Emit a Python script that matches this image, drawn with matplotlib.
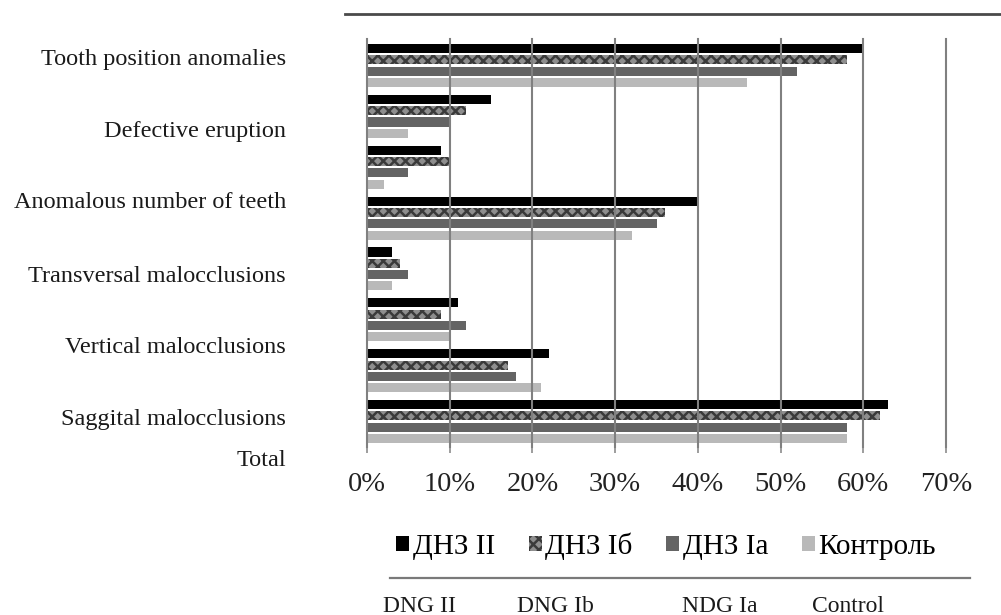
import matplotlib
matplotlib.use("Agg")
import matplotlib.pyplot as plt
from matplotlib.lines import Line2D
from matplotlib.patches import Patch
import numpy as np

# ---- data -------------------------------------------------------------
category_labels = [
    "Tooth position anomalies",
    "Defective eruption",
    "Anomalous number of teeth",
    "Transversal malocclusions",
    "Vertical malocclusions",
    "Saggital malocclusions",
    "Total",
]
series_names = ["ДНЗ II", "ДНЗ Iб", "ДНЗ Ia", "Контроль"]
group_names_en = ["DNG II", "DNG Ib", "NDG Ia", "Control"]

# percentage per bar group (top to bottom), one list per series
dnz_ii = [60, 15, 9, 40, 3, 11, 22, 63]
dnz_ib = [58, 12, 10, 36, 4, 9, 17, 62]
dnz_ia = [52, 10, 5, 35, 5, 12, 18, 58]
control = [46, 5, 2, 32, 3, 10, 21, 58]

x_ticks = [0, 10, 20, 30, 40, 50, 60, 70]
x_tick_labels = ["0%", "10%", "20%", "30%", "40%", "50%", "60%", "70%"]

# ---- figure -----------------------------------------------------------
W, H = 1001, 615
plt.rcParams["font.family"] = ["Liberation Serif", "DejaVu Serif"]
plt.rcParams["hatch.linewidth"] = 1.8
fig = plt.figure(figsize=(W / 100, H / 100), dpi=100)


def fx(px):
    return px / W


def fy(py):
    return 1 - py / H


ax = fig.add_axes([fx(367), fy(447), fx(946) - fx(367), fy(39) - fy(447)])

hatch_face, hatch_ink = "#8e8e8e", "#3a3a3a"
series = [dnz_ii, dnz_ib, dnz_ia, control]
styles = [
    dict(color="#000000"),
    dict(facecolor=hatch_face, edgecolor=hatch_ink, hatch="xxx", linewidth=0),
    dict(color="#646464"),
    dict(color="#b9b9b9"),
]

n_groups = len(dnz_ii)
group_pitch = 4.5
bar_h = 0.8
base = np.arange(n_groups) * group_pitch
for k, (vals, st) in enumerate(zip(series, styles)):
    ax.barh(base + k, vals, height=bar_h, zorder=2, **st)

ax.set_xlim(0, 70)
ax.set_ylim(35.25, -0.84)
ax.set_yticks([])
ax.set_xticks(x_ticks)
ax.set_xticklabels(x_tick_labels, fontsize=20.5, color="#222222")
ax.tick_params(axis="x", length=4, width=1.2, color="#8c8c8c", pad=14)
for s in ax.spines.values():
    s.set_visible(False)
for xv in x_ticks:
    ax.axvline(xv, color="#808080", lw=1.5, zorder=3, clip_on=False)

# category labels down the left side
label_y = [60, 132, 203, 276, 348, 420, 460]
for txt, py in zip(category_labels, label_y):
    fig.text(fx(286), fy(py), txt, ha="right", va="center",
             fontsize=17.5, color="#1a1a1a")

# legend
handles = [
    Patch(facecolor="#000000", edgecolor="none"),
    Patch(facecolor=hatch_face, edgecolor=hatch_ink, hatch="xxx", linewidth=0),
    Patch(facecolor="#646464", edgecolor="none"),
    Patch(facecolor="#b9b9b9", edgecolor="none"),
]
fig.legend(handles, series_names, loc="center", ncol=4,
           bbox_to_anchor=(fx(666), fy(546)), frameon=False,
           fontsize=21, handlelength=0.45, handleheight=0.45,
           handletextpad=0.12, columnspacing=1.15, borderpad=0)

# separator lines
fig.add_artist(Line2D([fx(345), fx(1000)], [fy(14), fy(14)],
                      color="#4a4a4a", lw=2))
fig.add_artist(Line2D([fx(390), fx(970)], [fy(578), fy(578)],
                      color="#7a7a7a", lw=1.6))

# english group names under the legend
name_x = [383, 517, 682, 812]
for txt, px in zip(group_names_en, name_x):
    fig.text(fx(px), fy(606), txt, ha="left", va="center",
             fontsize=17, color="#1a1a1a")

fig.savefig("out.png", dpi=100)
